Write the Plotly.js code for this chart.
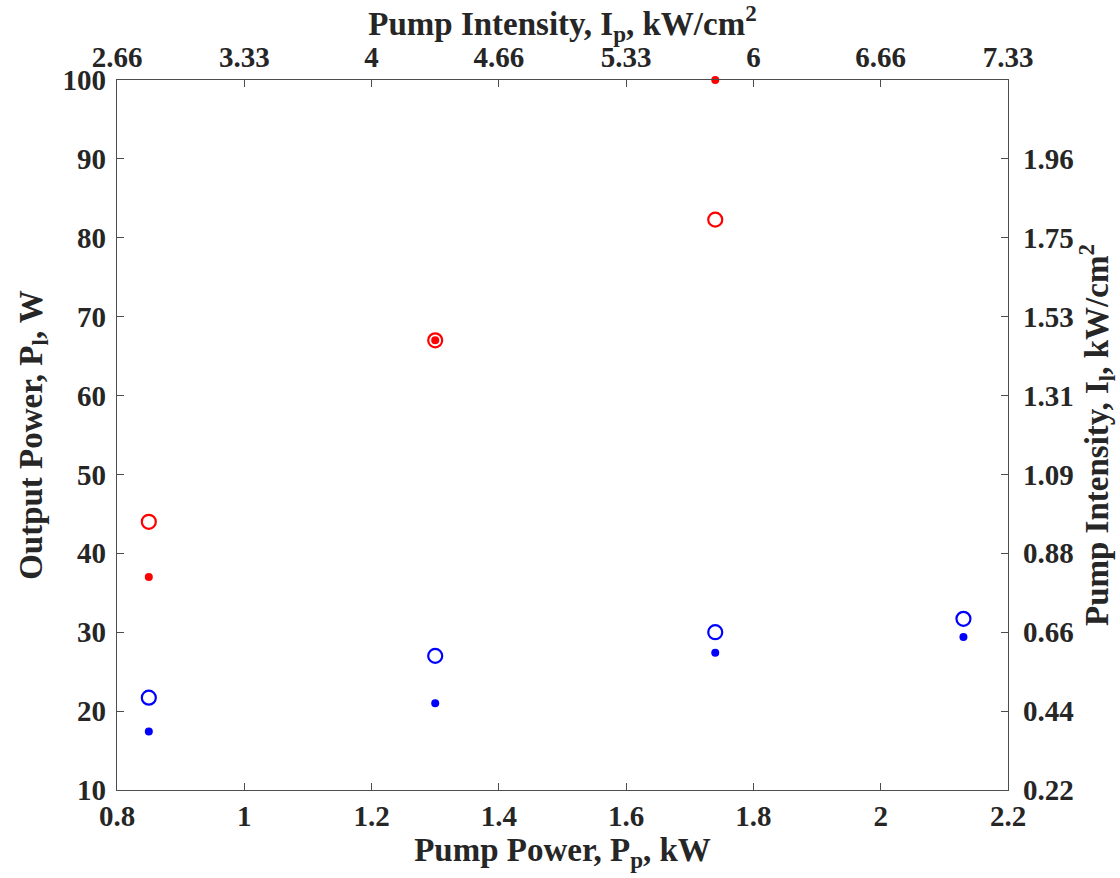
<!DOCTYPE html>
<html>
<head>
<meta charset="utf-8">
<script src="https://cdn.plot.ly/plotly-3.0.1.min.js"></script>
<style>html,body{margin:0;padding:0;background:#fff;}#plot{width:1120px;height:878px;}</style>
</head>
<body>
<div id="plot"></div>
<script>
// Pump power (kW) for each series
const redPumpPower = [0.85, 1.30, 1.74];
const redOpenOutput = [44.0, 67.0, 82.3];
const redFilledOutput = [37.0, 67.0, 100.0];

const bluePumpPower = [0.85, 1.30, 1.74, 2.13];
const blueOpenOutput = [21.7, 27.0, 30.0, 31.7];
const blueFilledOutput = [17.4, 21.0, 27.4, 29.4];

// Axis ticks
const bottomTickVals = [0.8, 1.0, 1.2, 1.4, 1.6, 1.8, 2.0, 2.2];
const bottomTickText = ['0.8', '1', '1.2', '1.4', '1.6', '1.8', '2', '2.2'];
const topTickText = ['2.66', '3.33', '4', '4.66', '5.33', '6', '6.66', '7.33'];
const leftTickVals = [10, 20, 30, 40, 50, 60, 70, 80, 90, 100];
const rightTickVals = [10, 20, 30, 40, 50, 60, 70, 80, 90];
const rightTickText = ['0.22', '0.44', '0.66', '0.88', '1.09', '1.31', '1.53', '1.75', '1.96'];

const FONT = 'Liberation Serif, Times New Roman, serif';
const TXT = '#262626';
const AX = '#4d4d4d';

const traces = [
  {x: redPumpPower, y: redOpenOutput, type: 'scatter', mode: 'markers', cliponaxis: false,
   marker: {symbol: 'circle-open', size: 14, color: '#ff0000', line: {width: 2.2, color: '#ff0000'}}},
  {x: redPumpPower, y: redFilledOutput, type: 'scatter', mode: 'markers', cliponaxis: false,
   marker: {symbol: 'circle', size: 8, color: '#ff0000'}},
  {x: bluePumpPower, y: blueOpenOutput, type: 'scatter', mode: 'markers', cliponaxis: false,
   marker: {symbol: 'circle-open', size: 14, color: '#0000ff', line: {width: 2.2, color: '#0000ff'}}},
  {x: bluePumpPower, y: blueFilledOutput, type: 'scatter', mode: 'markers', cliponaxis: false,
   marker: {symbol: 'circle', size: 8, color: '#0000ff'}},
  // invisible trace to activate secondary axes
  {x: [bottomTickVals[0]], y: [rightTickVals[0]], xaxis: 'x2', yaxis: 'y2', type: 'scatter', mode: 'markers',
   marker: {opacity: 0}, hoverinfo: 'skip'}
];

const tickFont = {family: FONT, size: 29, color: TXT, weight: 'bold'};
const titleFont = {family: FONT, size: 33, color: TXT, weight: 'bold'};

const layout = {
  width: 1120, height: 878,
  margin: {l: 117, r: 112, t: 80, b: 88},
  showlegend: false,
  paper_bgcolor: '#ffffff', plot_bgcolor: '#ffffff',
  font: {family: FONT, color: TXT},
  xaxis: {
    range: [0.8, 2.2], tickvals: bottomTickVals, ticktext: bottomTickText,
    ticks: 'inside', ticklen: 7, tickcolor: AX, tickwidth: 1,
    showline: true, linecolor: AX, linewidth: 1.2, showgrid: false, zeroline: false,
    tickfont: tickFont, ticklabelstandoff: 0,
    title: {text: 'Pump Power, P<sub>p</sub>, kW', font: titleFont, standoff: 0}
  },
  yaxis: {
    range: [10, 100], tickvals: leftTickVals,
    ticks: 'inside', ticklen: 7, tickcolor: AX, tickwidth: 1,
    showline: true, linecolor: AX, linewidth: 1.2, showgrid: false, zeroline: false,
    tickfont: tickFont, ticklabelstandoff: 4,
    title: {text: 'Output Power, P<sub>l</sub>, W', font: titleFont, standoff: 10}
  },
  xaxis2: {
    overlaying: 'x', side: 'top', range: [0.8, 2.2],
    tickvals: bottomTickVals, ticktext: topTickText,
    ticks: 'inside', ticklen: 7, tickcolor: AX, tickwidth: 1,
    showline: true, linecolor: AX, linewidth: 1.2, showgrid: false, zeroline: false,
    tickfont: tickFont, ticklabelstandoff: 0,
    title: {text: 'Pump Intensity, I<sub>p</sub>, kW/cm<sup>2</sup>', font: titleFont, standoff: 0}
  },
  yaxis2: {
    overlaying: 'y', side: 'right', range: [10, 100],
    tickvals: rightTickVals, ticktext: rightTickText,
    ticks: 'inside', ticklen: 7, tickcolor: AX, tickwidth: 1,
    showline: true, linecolor: AX, linewidth: 1.2, showgrid: false, zeroline: false,
    tickfont: tickFont, ticklabelstandoff: 8,
    title: {text: 'Pump Intensity, I<sub>l</sub>, kW/cm<sup>2</sup>', font: titleFont, standoff: 2}
  }
};

Plotly.newPlot('plot', traces, layout, {staticPlot: true, displayModeBar: false});
</script>
</body>
</html>
